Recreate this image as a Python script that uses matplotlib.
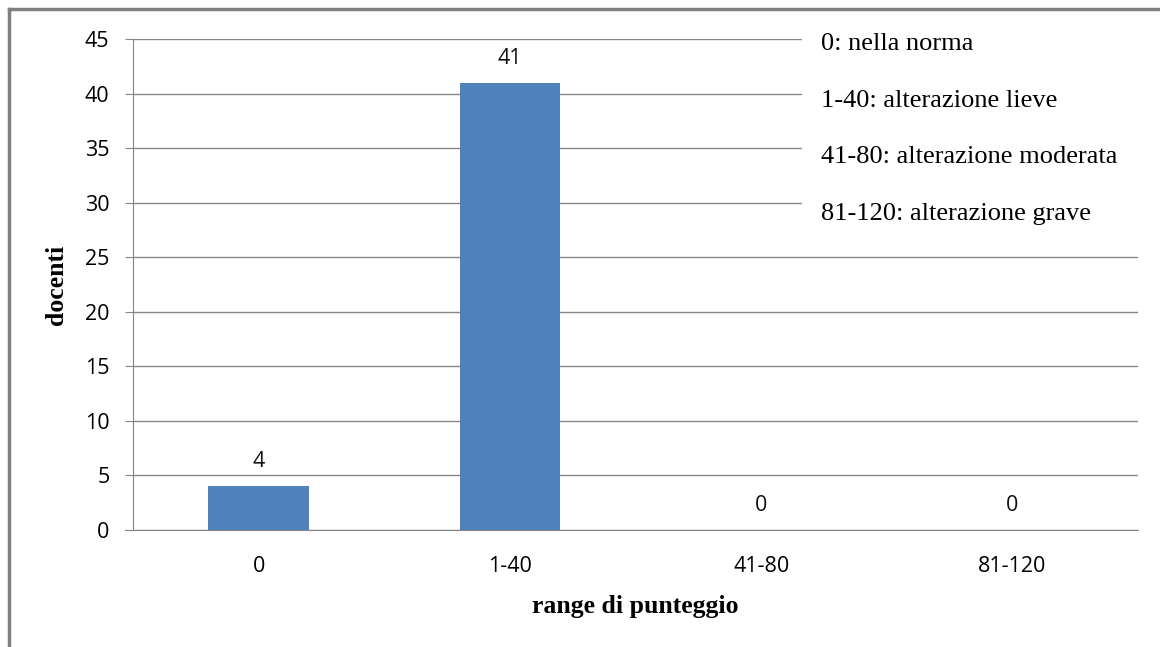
import matplotlib.pyplot as plt
from matplotlib.lines import Line2D
from matplotlib.patches import Rectangle

categories = ['0', '1-40', '41-80', '81-120']
docenti = [4, 41, 0, 0]
note_lines = ['0: nella norma', '1-40: alterazione lieve',
              '41-80: alterazione moderata', '81-120: alterazione grave']
yticks = list(range(0, 50, 5))

W, H = 1160, 647
fig = plt.figure(figsize=(W / 100, H / 100), dpi=100)
ax = fig.add_axes([133 / W, 1 - 530 / H, (1138 - 133) / W, (530 - 39) / H])

grey = '#868686'
sans = ['Open Sans', 'DejaVu Sans']
tick_font = {'family': sans, 'size': 15.5}
serif_bold = {'family': ['Liberation Serif', 'DejaVu Serif'], 'weight': 'bold', 'size': 18.5}

x = list(range(len(categories)))
bars = ax.bar(x, docenti, width=0.4, color='#4F81BD', zorder=3)
for xi, v in zip(x, docenti):
    ax.text(xi, v + 1.75, str(v), ha='center', va='baseline',
            fontsize=15.5, family=sans, color='#111111')

ax.set_xlim(-0.5, len(categories) - 0.5)
ax.set_ylim(0, 45)
ax.set_yticks(yticks)
ax.set_xticks(x)
ax.set_xticklabels(categories, fontdict=tick_font)
ax.set_yticklabels([str(t) for t in yticks], fontdict=tick_font)
ax.grid(axis='y', color=grey, linewidth=1, zorder=0)
ax.tick_params(axis='y', length=6, color=grey, pad=11)
ax.tick_params(axis='x', length=0, pad=19)
for side in ['top', 'right']:
    ax.spines[side].set_visible(False)
ax.spines['left'].set_color(grey)
ax.spines['bottom'].set_color(grey)
ax.spines['bottom'].set_bounds(-0.5 - 8 / 251, 3.5)
ax.spines['bottom'].set_clip_on(False)

ax.set_ylabel('docenti', fontdict=serif_bold, labelpad=12)
ax.set_xlabel('range di punteggio', fontdict=serif_bold, labelpad=13)

# white panel behind the score-range notes
fig.add_artist(Rectangle((802 / W, 1 - 232 / H), (1150 - 802) / W, (232 - 25) / H,
                         transform=fig.transFigure, facecolor='white',
                         edgecolor='none', zorder=5))
for i, line in enumerate(note_lines):
    fig.text(821 / W, 1 - (44 + 56.7 * i) / H, line, ha='left', va='center',
             family=['Liberation Serif', 'DejaVu Serif'], fontsize=19,
             color='black', zorder=6)

# outer frame (top and left edges)
fig.add_artist(Line2D([8.5 / W, 1], [1 - 9 / H, 1 - 9 / H], color='#808080',
                      linewidth=2.5, transform=fig.transFigure))
fig.add_artist(Line2D([8.5 / W, 8.5 / W], [0, 1 - 9 / H], color='#808080',
                      linewidth=2.5, transform=fig.transFigure))

fig.savefig('out.png', dpi=100)
